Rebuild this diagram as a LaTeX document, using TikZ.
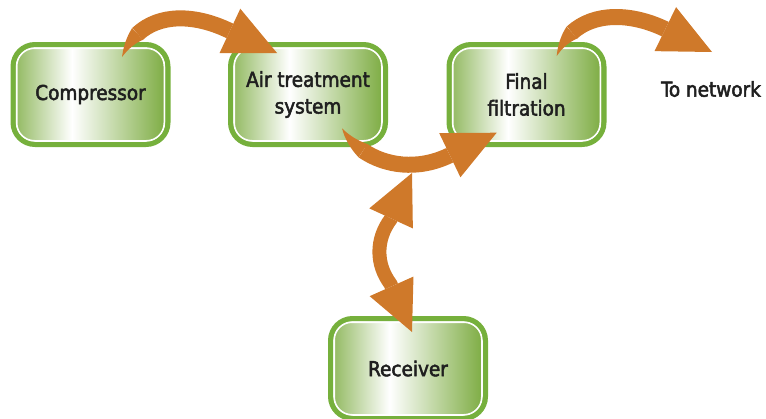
\documentclass[tikz,border=0pt]{standalone}
\usepackage{fontspec}
\newfontfamily\tagfont{DejaVuSansCondensed.ttf}[FakeBold=2.5]
\usetikzlibrary{arrows.meta,bending}

\definecolor{leafgreen}{RGB}{122,170,62}
\definecolor{rimgreen}{RGB}{118,176,60}
\definecolor{pipeorange}{RGB}{207,121,42}
\pgfdeclarehorizontalshading{boxshade}{100bp}{color(0bp)=(leafgreen!85!white);
  color(25bp)=(leafgreen!85!white); color(44bp)=(white);
  color(75bp)=(leafgreen); color(100bp)=(leafgreen)}

\begin{document}
\begin{tikzpicture}[x=1pt,y=-1pt,
  every node/.style={font=\tagfont\fontsize{20.5}{26.7}\selectfont, text=black!88},
  stage/.style={draw=rimgreen, line width=5pt, rounded corners=22pt,
    minimum width=155pt, minimum height=100pt, align=center,
    shade, shading=boxshade,
    path picture={\draw[white,line width=1.8pt,rounded corners=18pt]
      ([shift={(3.6pt,-3.6pt)}]path picture bounding box.north west) rectangle
      ([shift={(-3.6pt,3.6pt)}]path picture bounding box.south east);}},
  pipe/.style={draw=pipeorange, line width=16pt,
    {Triangle[length=30pt,width=16pt,line width=0pt,bend]}-{Triangle[length=52pt,width=49pt,line width=0pt]}},
  twoway/.style={draw=pipeorange, line width=14pt,
    {Triangle[length=50pt,width=48pt,line width=0pt]}-{Triangle[length=50pt,width=48pt,line width=0pt]}},
  ]

  \useasboundingbox (0,0) rectangle (766,418);

  % stages
  \node[stage] (comp) at (90.5,94.5) {Compressor};
  \node[stage] (air) at (308,94.5) {Air treatment\\system};
  \node[stage] (filt) at (526.5,94.5) {Final\\filtration};
  \node[stage] (recv) at (408,368.5) {Receiver};
  \node[] (net) at (711,89) {To network};

  % compressor -> air treatment
  \draw[pipe] ([shift={(-48.5,15)}]comp.north east)
    .. controls +(17,-42) and +(-45,-21.5) .. ([shift={(1,-11.5)}]air.north west)
    -- ([shift={(49,11)}]air.north west);

  % air treatment -> final filtration
  \draw[pipe] ([shift={(-46,-18.7)}]air.south east)
    .. controls +(17,30) and +(-45,21.5) .. ([shift={(2.7,8.5)}]filt.south west)
    -- ([shift={(50.2,-14.3)}]filt.south west);

  % final filtration -> network
  \draw[pipe] ([shift={(-49.8,14)}]filt.north east)
    .. controls +(15,-42) and +(-45,-21.5) .. ([shift={(-46,-60)}]net.center)
    -- ([shift={(1,-37)}]net.center);

  % receiver <-> line
  \coordinate (split) at ([shift={(4,-143)}]recv.north);
  \draw[twoway] (split) -- ++(-21.2,46)
    .. controls +(-15,20) and +(-15,-20) .. ([shift={(-17.5,-32)}]recv.north)
    -- ([shift={(4,16)}]recv.north);

\end{tikzpicture}
\end{document}
